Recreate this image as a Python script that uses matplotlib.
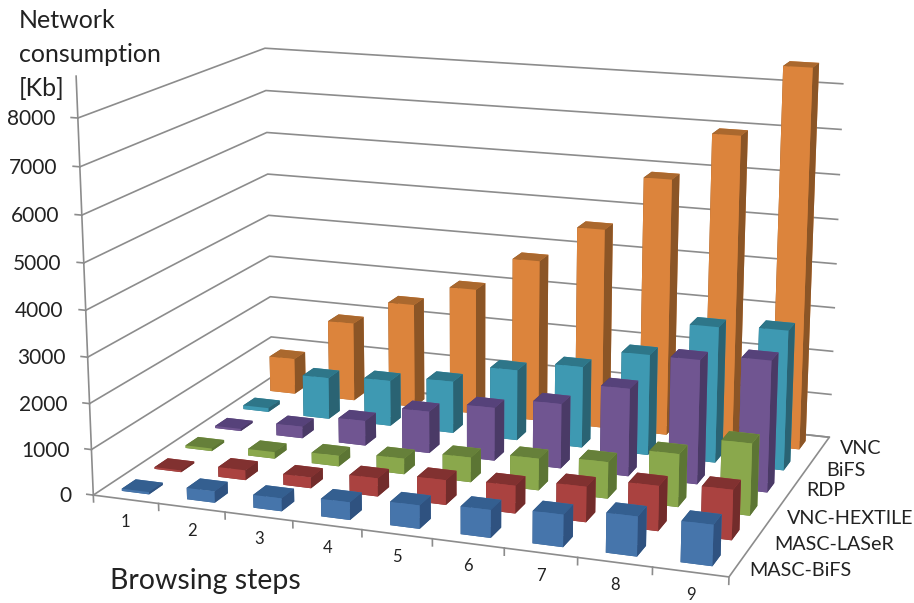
import numpy as np
import matplotlib
matplotlib.use("Agg")
import matplotlib.pyplot as plt
from mpl_toolkits.mplot3d import proj3d

plt.rcParams['font.family'] = ['Lato', 'DejaVu Sans']

steps = ['1', '2', '3', '4', '5', '6', '7', '8', '9']
series = ['MASC-BiFS', 'MASC-LASeR', 'VNC-HEXTILE', 'RDP', 'BiFS', 'VNC']
masc_bifs = [50, 250, 280, 380, 500, 590, 680, 830, 850]
masc_laser = [40, 220, 240, 400, 540, 600, 760, 960, 1060]
vnc_hextile = [60, 150, 240, 350, 550, 700, 800, 1150, 1550]
rdp = [50, 270, 570, 950, 1200, 1450, 1950, 2740, 2880]
bifs = [90, 970, 1060, 1200, 1620, 1850, 2280, 3050, 3120]
vnc = [850, 1860, 2450, 2950, 3750, 4600, 5850, 6930, 8500]
values = [masc_bifs, masc_laser, vnc_hextile, rdp, bifs, vnc]
z_ticks = [0, 1000, 2000, 3000, 4000, 5000, 6000, 7000, 8000]
face_colors = ['#4675ab', '#aa4240', '#8aa84c', '#705591', '#3e99b2', '#dc843c']
top_colors = ['#345f90', '#813130', '#66803a', '#56427a', '#2e7689', '#aa682e']
side_colors = ['#2f5280', '#722c2b', '#5c7534', '#4a3a66', '#2a6373', '#8b5526']
series_label_px = [(749, 571), (774, 545), (787, 518), (806, 491), (826, 470), (840, 449)]

W, H = 914, 603
L, B, S = 46.0, -111.1, 833.2
fig = plt.figure(figsize=(W / 100, H / 100), dpi=100)
ax = fig.add_axes([L / W, B / H, S / W, S / H], projection='3d', computed_zorder=False)
ax.set_xlim(0, 9); ax.set_ylim(0, 6); ax.set_zlim(0, 8000)
ax.view_init(elev=14.8572, azim=-70.0873)
ax.set_proj_type('persp', focal_length=0.559)
ax.set_box_aspect((1, 0.6621, 0.5871))
ax.set_axis_off()
ax.patch.set_alpha(0)
TXT = '#222222'
M = ax.get_proj()
xmin, xmax = ax.viewLim.intervalx
ymin, ymax = ax.viewLim.intervaly


def label(x, y, z, s, dx, dy, **kw):
    """Write s at a data point of the 3D axes, shifted by dx, dy pixels."""
    px, py, _ = proj3d.proj_transform(x, y, z, M)
    fx = L + S * (px - xmin) / (xmax - xmin) + dx
    fy = B + S * (py - ymin) / (ymax - ymin) + dy
    fig.text(fx / W, fy / H, s, color=TXT, **kw)


grid = '#8c8c8c'
for z in z_ticks:
    ax.plot([0, 0, 9], [0, 6, 6], [z, z, z], color=grid, lw=1.2, zorder=1)
    ax.plot([-0.1, 0], [0, 0], [z, z], color=grid, lw=1.2, zorder=1)
    label(0, 0, z, f'{z}', -22, -1, ha='right', va='center', fontsize=15)
ax.plot([0, 0], [0, 0], [0, 8850], color=grid, lw=1.2, zorder=1)
ax.plot([0, 9, 9, 0], [0, 0, 6, 6], [0, 0, 0, 0], color=grid, lw=1.2, zorder=1)
for i in range(10):
    ax.plot([i, i], [0, 0], [0, -150], color=grid, lw=1.2, zorder=1)
for i, s in enumerate(steps):
    label(i + 0.5, 0, 0, s, 0, -23, ha='center', va='center', fontsize=12)
for s, (px, py) in zip(series, series_label_px):
    fig.text(px / W, 1 - py / H, s, ha='left', va='center', fontsize=14.2, color=TXT)

bw, bd = 0.42, 0.42
z = 2
for j in range(5, -1, -1):
    for i in range(9):
        cols = [top_colors[j], top_colors[j], face_colors[j], face_colors[j], side_colors[j], side_colors[j]]
        ax.bar3d(i + 0.5 - bw / 2, j + 0.5 - bd / 2, 0, bw, bd, values[j][i],
                 color=cols, shade=False, zorder=z, linewidth=0)
        z += 1

fig.text(19 / W, 1 - 21 / H, 'Network', fontsize=18, va='center', color=TXT)
fig.text(19 / W, 1 - 54 / H, 'consumption', fontsize=18, va='center', color=TXT)
fig.text(19 / W, 1 - 88 / H, '[Kb]', fontsize=18, va='center', color=TXT)
fig.text(110 / W, 1 - 581 / H, 'Browsing steps', fontsize=20.5, va='center', color=TXT)
fig.savefig('out.png', dpi=100)
